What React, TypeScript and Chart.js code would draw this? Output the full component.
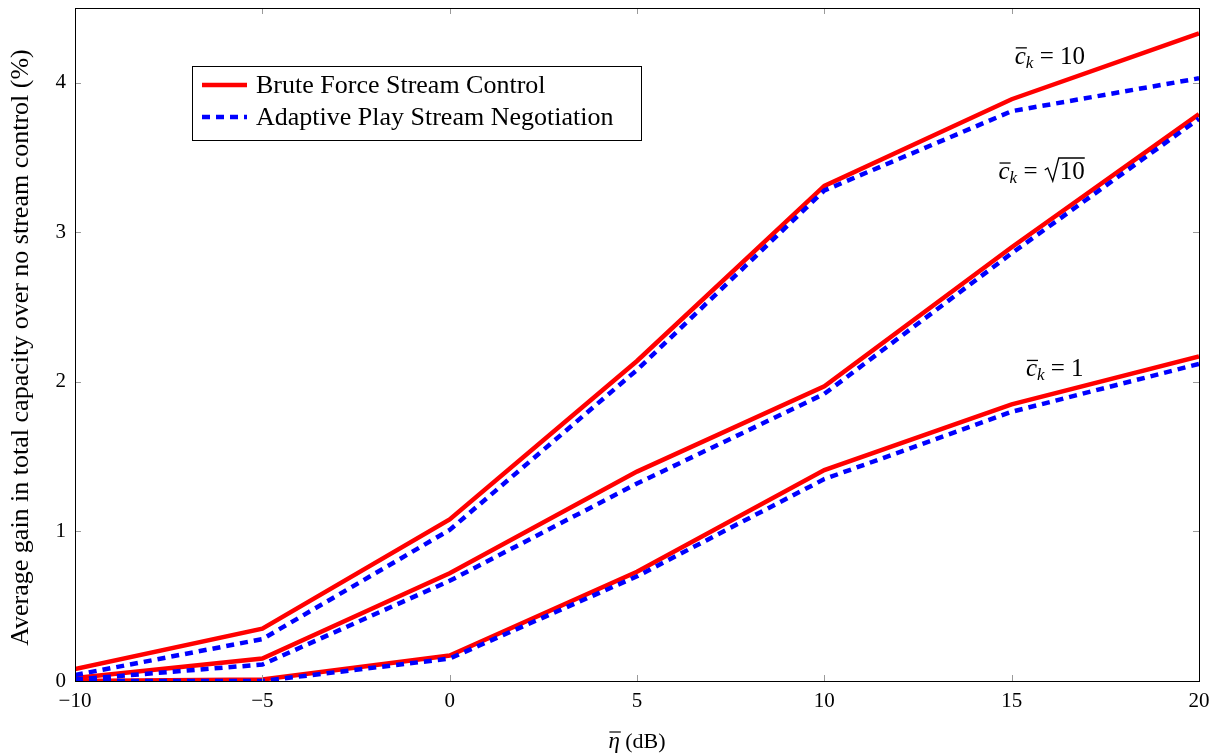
import React, { useEffect, useRef } from "react";
import { Chart, registerables } from "chart.js";

Chart.register(...registerables);

const xValues = [-10, -5, 0, 5, 10, 15, 20];
const xTicks = [-10, -5, 0, 5, 10, 15, 20];
const yTicks = [0, 1, 2, 3, 4];

const bruteC10 = [0.08, 0.35, 1.08, 2.14, 3.31, 3.89, 4.33];
const adaptC10 = [0.04, 0.28, 1.01, 2.08, 3.28, 3.81, 4.03];
const bruteCs10 = [0.02, 0.15, 0.72, 1.4, 1.97, 2.9, 3.79];
const adaptCs10 = [0.01, 0.11, 0.67, 1.32, 1.92, 2.86, 3.76];
const bruteC1 = [0.0, 0.01, 0.17, 0.73, 1.41, 1.85, 2.17];
const adaptC1 = [0.0, 0.0, 0.15, 0.7, 1.35, 1.8, 2.12];

const legendLabels = ["Brute Force Stream Control", "Adaptive Play Stream Negotiation"];
const curveLabels = [
  { value: "10", sqrt: false, x: 16.02, y: 4.18 },
  { value: "10", sqrt: true, x: 15.8, y: 3.41 },
  { value: "1", sqrt: false, x: 16.15, y: 2.09 },
];
const xTitle = "(dB)";
const yTitle = "Average gain in total capacity over no stream control (%)";

const RED = "#ff0000";
const BLUE = "#0000ff";
const FONT = "'Liberation Serif', 'DejaVu Serif', serif";

function toPts(ys: number[]) {
  return xValues.map((x, i) => ({ x, y: ys[i] }));
}

const decorPlugin = {
  id: "decor",
  afterDatasetsDraw(chart: any) {
    const { ctx, chartArea, scales } = chart;
    const { left, right, top, bottom } = chartArea;
    const xs = scales.x;
    const ys = scales.y;
    ctx.save();
    // inner ticks
    ctx.strokeStyle = "#9a9a9a";
    ctx.lineWidth = 1;
    const tl = 6;
    ctx.beginPath();
    xTicks.forEach((t) => {
      const px = Math.round(xs.getPixelForValue(t)) + 0.5;
      ctx.moveTo(px, bottom);
      ctx.lineTo(px, bottom - tl);
      ctx.moveTo(px, top);
      ctx.lineTo(px, top + tl);
    });
    yTicks.forEach((t) => {
      const py = Math.round(ys.getPixelForValue(t)) + 0.5;
      ctx.moveTo(left, py);
      ctx.lineTo(left + tl, py);
      ctx.moveTo(right, py);
      ctx.lineTo(right - tl, py);
    });
    ctx.stroke();
    // frame
    ctx.strokeStyle = "#000";
    ctx.lineWidth = 1;
    ctx.strokeRect(Math.round(left) + 0.5, Math.round(top) + 0.5, Math.round(right - left), Math.round(bottom - top));

    // curve labels
    ctx.fillStyle = "#000";
    ctx.textBaseline = "alphabetic";
    curveLabels.forEach((c) => {
      const cx = xs.getPixelForValue(c.x);
      const cy = ys.getPixelForValue(c.y) + 8;
      ctx.font = `italic 25px ${FONT}`;
      const wc = ctx.measureText("c").width;
      ctx.font = `italic 17px ${FONT}`;
      const wk = ctx.measureText("k").width;
      ctx.font = `25px ${FONT}`;
      const weq = ctx.measureText(" = ").width;
      const wv = ctx.measureText(c.value).width;
      const wsq = c.sqrt ? 16 : 0;
      const total = wc + wk + weq + wsq + wv;
      let x0 = cx - total / 2;
      ctx.font = `italic 25px ${FONT}`;
      ctx.fillText("c", x0, cy);
      ctx.lineWidth = 1.3;
      ctx.strokeStyle = "#000";
      ctx.beginPath();
      ctx.moveTo(x0 + 1, cy - 16);
      ctx.lineTo(x0 + wc + 1, cy - 16);
      ctx.stroke();
      x0 += wc;
      ctx.font = `italic 17px ${FONT}`;
      ctx.fillText("k", x0, cy + 4);
      x0 += wk;
      ctx.font = `25px ${FONT}`;
      ctx.fillText(" = ", x0, cy);
      x0 += weq;
      if (c.sqrt) {
        ctx.beginPath();
        ctx.lineWidth = 1.3;
        ctx.moveTo(x0 + 1, cy - 9);
        ctx.lineTo(x0 + 4, cy - 11);
        ctx.lineTo(x0 + 9, cy + 2);
        ctx.lineTo(x0 + 15, cy - 21);
        ctx.lineTo(x0 + 16 + wv, cy - 21);
        ctx.stroke();
        x0 += wsq;
      }
      ctx.fillText(c.value, x0, cy);
    });

    // legend
    const lx = 192.5, ly = 66.5, lw = 449, lh = 74;
    ctx.fillStyle = "#fff";
    ctx.fillRect(lx, ly, lw, lh);
    ctx.strokeStyle = "#000";
    ctx.lineWidth = 1;
    ctx.strokeRect(lx, ly, lw, lh);
    const rows = [
      { color: RED, dash: [] as number[], y: 85 },
      { color: BLUE, dash: [8, 6], y: 117 },
    ];
    ctx.font = `21px ${FONT}`;
    const mw = ctx.measureText(legendLabels[0]).width;
    const fs = Math.min(26, (21 * 301) / mw);
    rows.forEach((r, i) => {
      ctx.strokeStyle = r.color;
      ctx.lineWidth = 4.5;
      ctx.setLineDash(r.dash);
      ctx.beginPath();
      ctx.moveTo(202, r.y);
      ctx.lineTo(247, r.y);
      ctx.stroke();
      ctx.setLineDash([]);
      ctx.fillStyle = "#000";
      ctx.font = `${fs}px ${FONT}`;
      ctx.textBaseline = "middle";
      ctx.fillText(legendLabels[i], 256, r.y + 1);
    });

    // axis titles
    ctx.textBaseline = "alphabetic";
    ctx.fillStyle = "#000";
    ctx.strokeStyle = "#000";
    ctx.font = `italic 23px ${FONT}`;
    const weta = ctx.measureText("η").width;
    ctx.font = `22px ${FONT}`;
    const wdb = ctx.measureText(" " + xTitle).width;
    const tcx = (left + right) / 2;
    let tx = tcx - (weta + wdb) / 2;
    const ty = 748;
    ctx.font = `italic 23px ${FONT}`;
    ctx.fillText("η", tx, ty);
    ctx.lineWidth = 1.2;
    ctx.beginPath();
    ctx.moveTo(tx + 1, ty - 16);
    ctx.lineTo(tx + weta + 1, ty - 16);
    ctx.stroke();
    ctx.font = `22px ${FONT}`;
    ctx.fillText(" " + xTitle, tx + weta, ty);

    ctx.translate(28, (top + bottom) / 2 + 3);
    ctx.rotate(-Math.PI / 2);
    ctx.font = `20px ${FONT}`;
    const yw = ctx.measureText(yTitle).width;
    const yfs = Math.min(26, (20 * 615) / yw);
    ctx.font = `${yfs}px ${FONT}`;
    ctx.textAlign = "center";
    ctx.fillText(yTitle, 0, 0);
    ctx.restore();
  },
};

export default function App() {
  const ref = useRef<HTMLCanvasElement>(null);
  useEffect(() => {
    document.body.style.margin = "0";
    const ds = (label: string, data: number[], color: string, dashed: boolean) => ({
      label,
      data: toPts(data),
      borderColor: color,
      backgroundColor: color,
      borderWidth: 4.5,
      borderDash: dashed ? [8, 6] : [],
      pointRadius: 0,
      tension: 0,
      fill: false,
      clip: 0,
      order: dashed ? 0 : 1,
      borderCapStyle: "butt" as const,
      borderJoinStyle: "miter" as const,
    });
    const chart = new Chart(ref.current!, {
      type: "line",
      data: {
        datasets: [
          ds("Brute c10", bruteC10, RED, false),
          ds("Adapt c10", adaptC10, BLUE, true),
          ds("Brute cs10", bruteCs10, RED, false),
          ds("Adapt cs10", adaptCs10, BLUE, true),
          ds("Brute c1", bruteC1, RED, false),
          ds("Adapt c1", adaptC1, BLUE, true),
        ],
      },
      options: {
        animation: false,
        responsive: false,
        maintainAspectRatio: false,
        layout: { padding: { left: 0, right: 25, top: 8, bottom: 0 } },
        plugins: { legend: { display: false }, tooltip: { enabled: false } },
        scales: {
          x: {
            type: "linear",
            min: -10,
            max: 20,
            grid: { display: false, drawTicks: false },
            border: { display: false },
            afterBuildTicks: (s: any) => {
              s.ticks = xTicks.map((v) => ({ value: v }));
            },
            afterFit: (s: any) => {
              s.height = 75;
              s.paddingLeft = 0;
              s.paddingRight = 0;
            },
            ticks: {
              padding: 8,
              color: "#000",
              font: { family: FONT, size: 21 },
              maxRotation: 0,
              callback: (v: any) => String(v).replace("-", "\u2212"),
            },
          },
          y: {
            type: "linear",
            min: 0,
            max: 4.5,
            grid: { display: false, drawTicks: false },
            border: { display: false },
            afterBuildTicks: (s: any) => {
              s.ticks = yTicks.map((v) => ({ value: v }));
            },
            afterFit: (s: any) => {
              s.width = 75;
              s.paddingTop = 0;
              s.paddingBottom = 0;
            },
            ticks: {
              padding: 9,
              color: "#000",
              font: { family: FONT, size: 21 },
              callback: (v: any) => String(v),
            },
          },
        },
      },
      plugins: [decorPlugin],
    });
    return () => chart.destroy();
  }, []);
  return (
    <div style={{ width: 1224, height: 756 }}>
      <canvas ref={ref} width={1224} height={756} style={{ display: "block" }} />
    </div>
  );
}
